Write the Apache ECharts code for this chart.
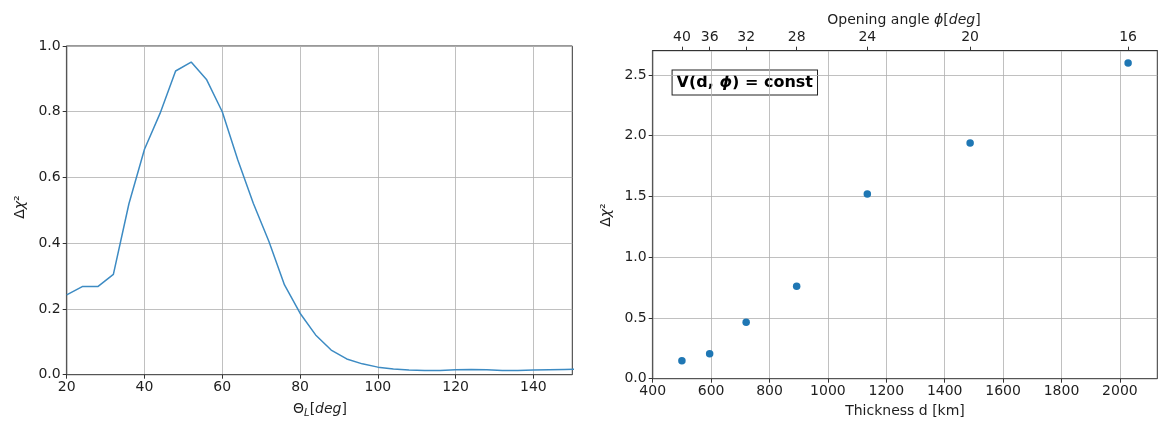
<!DOCTYPE html>
<html><head><meta charset="utf-8">
<script src="https://cdn.jsdelivr.net/npm/echarts@6/dist/echarts.min.js"></script>
<style>html,body{margin:0;padding:0;background:#fff}#c{width:1159px;height:421px}</style>
</head><body><div id="c"></div>
<script>
// Left panel: Delta chi^2 vs Theta_L
const thetaL = [20,24,28,32,36,40,44,48,52,56,60,64,68,72,76,80,84,88,92,96,100,104,108,112,116,120,124,128,132,136,140,144,148,152];
const dchiLeft = [0.243,0.268,0.268,0.305,0.52,0.686,0.795,0.924,0.951,0.897,0.80,0.653,0.521,0.405,0.273,0.187,0.121,0.075,0.048,0.033,0.023,0.017,0.014,0.013,0.013,0.015,0.016,0.015,0.013,0.013,0.014,0.015,0.016,0.017];
const leftXTicks = [20,40,60,80,100,120,140];
const leftYTicks = [0,0.2,0.4,0.6,0.8,1.0];
// Right panel: Delta chi^2 vs thickness d (and opening angle phi)
const thickness = [500,595,720,893,1135,1487,2028];
const phiDeg = [40,36,32,28,24,20,16];
const dchiRight = [0.148,0.206,0.464,0.761,1.52,1.94,2.598];
const rightXTicks = [400,600,800,1000,1200,1400,1600,1800,2000];
const rightYTicks = [0,0.5,1.0,1.5,2.0,2.5];

const FONT = 'DejaVu Sans';
const TXT = '#1e1e1e';
const FS = 14;
const lbl = (extra) => Object.assign({fontFamily: FONT, fontSize: FS, color: TXT, margin: 6}, extra || {});
const tick = (vals) => ({show: true, length: 4, lineStyle: {color: '#333', width: 1}, customValues: vals});
const line = {show: true, onZero: false, lineStyle: {color: '#555', width: 1.2}};
const split = {show: true, lineStyle: {color: '#b0b0b0', width: 0.8}};
const norm = {fontFamily: FONT, fontSize: FS, fill: TXT};
const ital = {fontFamily: FONT, fontSize: FS, fill: TXT, fontStyle: 'italic'};

const chart = echarts.init(document.getElementById('c'), null, {renderer: 'canvas'});
chart.setOption({
  animation: false,
  backgroundColor: '#fff',
  grid: [
    {left: 66.7, top: 46, width: 505.6, height: 328.7, show: true, borderColor: '#333', borderWidth: 1, backgroundColor: 'transparent'},
    {left: 652.7, top: 50.7, width: 504.6, height: 328, show: true, borderColor: '#333', borderWidth: 1, backgroundColor: 'transparent'}
  ],
  xAxis: [
    {gridIndex: 0, type: 'value', min: 20, max: 150, interval: 20, position: 'bottom',
     axisLine: line, axisTick: tick(leftXTicks), splitLine: split,
     axisLabel: lbl({customValues: leftXTicks, formatter: v => String(v)})},
    {gridIndex: 1, type: 'value', min: 400, max: 2128, interval: 200, position: 'bottom',
     axisLine: line, axisTick: tick(rightXTicks), splitLine: split,
     axisLabel: lbl({customValues: rightXTicks, formatter: v => String(v)})},
    {gridIndex: 1, type: 'value', min: 400, max: 2128, position: 'top',
     axisLine: {show: true, onZero: false, lineStyle: {color: '#333', width: 1}}, axisTick: tick(thickness), splitLine: {show: false},
     axisLabel: lbl({customValues: thickness, formatter: v => {
       const i = thickness.indexOf(v); return i >= 0 ? String(phiDeg[i]) : '';
     }})}
  ],
  yAxis: [
    {gridIndex: 0, type: 'value', min: 0, max: 1.0, interval: 0.2,
     axisLine: line, axisTick: tick(leftYTicks), splitLine: split,
     axisLabel: lbl({customValues: leftYTicks, formatter: v => v.toFixed(1)})},
    {gridIndex: 1, type: 'value', min: 0, max: 2.7, interval: 0.5,
     axisLine: line, axisTick: tick(rightYTicks), splitLine: split,
     axisLabel: lbl({customValues: rightYTicks, formatter: v => v.toFixed(1)})}
  ],
  series: [
    {type: 'line', xAxisIndex: 0, yAxisIndex: 0, data: thetaL.map((t, i) => [t, dchiLeft[i]]),
     showSymbol: false, clip: true, lineStyle: {color: '#3d8bc3', width: 1.5}, itemStyle: {color: '#3d8bc3'}},
    {type: 'scatter', xAxisIndex: 2, yAxisIndex: 1, data: thickness.map((d, i) => [d, dchiRight[i]]),
     symbolSize: 7.5, itemStyle: {color: '#1f77b4', opacity: 1}}
  ],
  graphic: [
    {type: 'text', x: 20, y: 207, rotation: Math.PI / 2,
     style: {text: '{n|Δ}{i|χ}{n|²}', rich: {n: norm, i: ital}, align: 'center', verticalAlign: 'middle'}},
    {type: 'text', x: 320, y: 409,
     style: {text: '{n|Θ}{s|L}{n|[}{i|deg}{n|]}', rich: {n: norm, i: ital, s: {fontFamily: FONT, fontSize: 10, fill: TXT, fontStyle: 'italic', padding: [8, 0, 0, 0]}}, align: 'center', verticalAlign: 'middle'}},
    {type: 'text', x: 606, y: 215, rotation: Math.PI / 2,
     style: {text: '{n|Δ}{i|χ}{n|²}', rich: {n: norm, i: ital}, align: 'center', verticalAlign: 'middle'}},
    {type: 'text', x: 905, y: 411,
     style: {text: 'Thickness d [km]', fontFamily: FONT, fontSize: FS, fill: TXT, align: 'center', verticalAlign: 'middle'}},
    {type: 'text', x: 904, y: 20,
     style: {text: '{n|Opening angle }{i|ϕ}{n|[}{i|deg}{n|]}', rich: {n: norm, i: ital}, align: 'center', verticalAlign: 'middle'}},
    {type: 'text', x: 744.8, y: 82.5,
     style: {text: '{b|V(d, }{p|ϕ}{b|) = const}',
       rich: {b: {fontFamily: FONT, fontWeight: 'bold', fontSize: 16, fill: '#000'},
              p: {fontFamily: FONT, fontStyle: 'italic', fontWeight: 'bold', fontSize: 16, fill: '#000'}},
       align: 'center', verticalAlign: 'middle',
       backgroundColor: '#fff', borderColor: '#222', borderWidth: 1, padding: [4, 4, 4, 4]}}
  ]
});
</script></body></html>
